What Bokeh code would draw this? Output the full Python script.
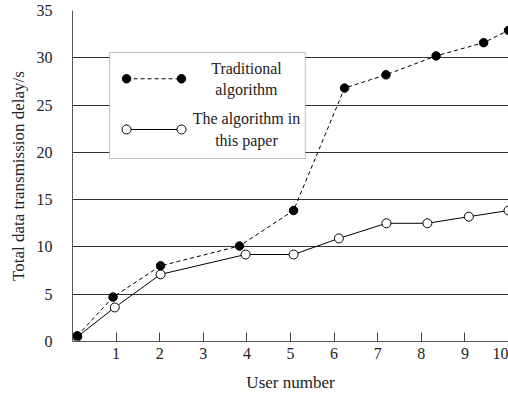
from bokeh.plotting import figure
from bokeh.models import Range1d, FixedTicker, BoxAnnotation, Label
from bokeh.embed import file_html
from bokeh.resources import INLINE

# ---- data ----
trad_x = [0.11, 0.93, 2.02, 3.83, 5.07, 6.24, 7.19, 8.34, 9.43, 10.0]
trad_y = [0.6, 4.7, 8.0, 10.1, 13.85, 26.8, 28.2, 30.2, 31.6, 32.9]
paper_x = [0.11, 0.97, 2.02, 3.97, 5.07, 6.11, 7.20, 8.14, 9.09, 10.0]
paper_y = [0.5, 3.6, 7.1, 9.2, 9.2, 10.9, 12.5, 12.5, 13.2, 13.85]
x_ticks = [1, 2, 3, 4, 5, 6, 7, 8, 9, 10]
y_ticks = [0, 5, 10, 15, 20, 25, 30, 35]
trad_label = ["Traditional", "algorithm"]
paper_label = ["The algorithm in", "this paper"]
x_title = "User number"
y_title = "Total data transmission delay/s"

FONT = "Liberation Serif"
INK = "#222222"

p = figure(width=508, height=396,
           min_border_left=72, min_border_right=0, min_border_top=10, min_border_bottom=55,
           x_range=Range1d(0, 10), y_range=Range1d(0, 35),
           output_backend="svg", toolbar_location=None)
p.outline_line_color = None
p.background_fill_color = "white"
p.border_fill_color = "white"

# grid
p.xgrid.grid_line_color = None
p.ygrid.ticker = FixedTicker(ticks=[5, 10, 15, 20, 25, 30, 35])
p.ygrid.grid_line_color = "#333333"
p.ygrid.grid_line_width = 1

# x axis
p.xaxis.ticker = FixedTicker(ticks=x_ticks)
p.xaxis.major_tick_in = 9
p.xaxis.major_tick_out = 0
p.xaxis.minor_tick_line_color = None
p.xaxis.major_tick_line_color = "#444444"
p.xaxis.axis_line_color = "#555555"
p.xaxis.major_label_standoff = 6
p.xaxis.axis_label = x_title
p.xaxis.axis_label_standoff = 11

# y axis
p.yaxis.ticker = FixedTicker(ticks=y_ticks)
p.yaxis.major_tick_line_color = None
p.yaxis.minor_tick_line_color = None
p.yaxis.major_tick_in = 0
p.yaxis.major_tick_out = 0
p.yaxis.axis_line_color = "#555555"
p.yaxis.major_label_standoff = 20
p.yaxis.axis_label = y_title
p.yaxis.axis_label_standoff = 6

for ax in (p.xaxis, p.yaxis):
    ax.major_label_text_font = FONT
    ax.major_label_text_font_size = "16px"
    ax.major_label_text_color = INK
    ax.axis_label_text_font = FONT
    ax.axis_label_text_font_size = "17px"
    ax.axis_label_text_font_style = "normal"
    ax.axis_label_text_color = INK

# series
p.line(paper_x, paper_y, line_color="black", line_width=1)
p.scatter(paper_x, paper_y, marker="circle", size=9, fill_color="white",
          line_color="black", line_width=1)
p.line(trad_x, trad_y, line_color="black", line_width=1, line_dash="4 3")
p.scatter(trad_x, trad_y, marker="circle", size=8.5, fill_color="black",
          line_color="black")

# hand-drawn legend (box, samples, two-line labels)
box = BoxAnnotation(left=0.85, right=5.34, bottom=19.35, top=30.56,
                    fill_color="white", fill_alpha=1.0,
                    line_color="#333333", line_width=1)
p.add_layout(box)

r = p.line([1.24, 2.50], [27.78, 27.78], line_color="black", line_width=1, line_dash="4 3")
r.level = "overlay"
r = p.scatter([1.24, 2.50], [27.78, 27.78], marker="circle", size=8.5,
              fill_color="black", line_color="black")
r.level = "overlay"
r = p.line([1.24, 2.50], [22.42, 22.42], line_color="black", line_width=1)
r.level = "overlay"
r = p.scatter([1.24, 2.50], [22.42, 22.42], marker="circle", size=9,
              fill_color="white", line_color="black")
r.level = "overlay"

label_y = [28.87, 26.65, 23.58, 21.25]
for txt, yy in zip(trad_label + paper_label, label_y):
    p.add_layout(Label(x=3.99, y=yy, text=txt, text_align="center",
                       text_baseline="middle", text_font=FONT,
                       text_font_size="16px", text_color=INK))

open("out.html", "w").write(file_html(p, INLINE))
